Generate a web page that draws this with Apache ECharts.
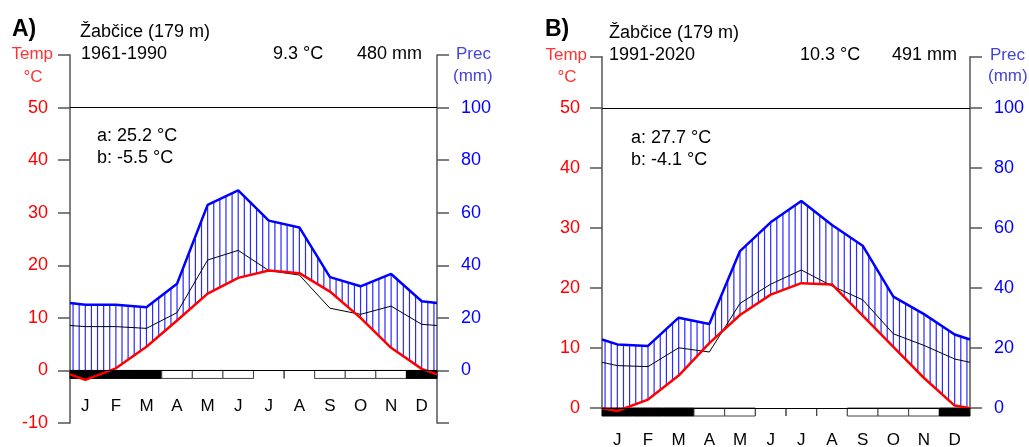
<!DOCTYPE html>
<html>
<head>
<meta charset="utf-8">
<script src="https://cdn.jsdelivr.net/npm/echarts@6/dist/echarts.min.js"></script>
<style>
  html, body { margin: 0; padding: 0; background: #fff; }
  #chart { width: 1029px; height: 447px; }
</style>
</head>
<body>
<div id="chart"></div>
<script>
const months = ['J', 'F', 'M', 'A', 'M', 'J', 'J', 'A', 'S', 'O', 'N', 'D']

// A) Žabčice 1961-1990
const tempA = [-1.8, 0.4, 4.5, 9.5, 14.6, 17.6, 19.0, 18.5, 15.0, 10.0, 4.3, 0.3]
const precA = [25, 25, 24, 33, 63, 68.5, 57, 54.4, 35.5, 32, 36.7, 26.3]
// 2 = sure frost, 1 = probable frost, 0 = none
const frostA = [2, 2, 2, 1, 1, 1, 0, 0, 1, 1, 1, 2]

// B) Žabčice 1991-2020
const tempB = [-0.5, 1.4, 5.4, 10.8, 15.5, 18.9, 20.8, 20.6, 15.4, 10.2, 5.0, 0.4]
const precB = [21.2, 20.7, 30.1, 28, 52.3, 61.9, 69, 61, 54.1, 37.1, 31.3, 24.5]
const frostB = [2, 2, 2, 1, 1, 0, 0, 0, 1, 1, 1, 2]

const FONT = '"Liberation Sans", Arial, sans-serif'

// monthly values at month centres, closed at both edges with the Dec/Jan mean
function withEdges(vals, scale) {
  const edge = (vals[0] + vals[11]) / 2 * scale
  const pts = [[0, edge]]
  vals.forEach((v, i) => pts.push([i + 0.5, v * scale]))
  pts.push([12, edge])
  return pts
}

function interp(pts, x) {
  for (let i = 1; i < pts.length; i++) {
    if (x <= pts[i][0]) {
      const [x0, y0] = pts[i - 1]
      const [x1, y1] = pts[i]
      return y0 + (y1 - y0) * (x - x0) / (x1 - x0)
    }
  }
  return pts[pts.length - 1][1]
}

function tempAxis(grid, min, max) {
  return {
    type: 'value', gridIndex: grid, position: 'left', min, max, interval: 10,
    axisLine: {show: true, lineStyle: {color: '#555', width: 1.5}},
    axisTick: {show: true, length: 12, lineStyle: {color: '#555', width: 1.5}},
    splitLine: {show: false},
    axisLabel: {
      color: '#ff0000', fontSize: 18, fontFamily: FONT, margin: 22,
      formatter: v => (v > 50 ? '' : String(v))
    }
  }
}

function precAxis(grid, min, max) {
  return {
    type: 'value', gridIndex: grid, position: 'right', min, max, interval: 20,
    axisLine: {show: true, lineStyle: {color: '#555', width: 1.5}},
    axisTick: {show: true, length: 12, lineStyle: {color: '#555', width: 1.5}},
    splitLine: {show: false},
    axisLabel: {
      color: '#0000ff', fontSize: 18, fontFamily: FONT, margin: 24,
      formatter: v => (v < 0 || v > 100 ? '' : String(v))
    }
  }
}

function panelSeries(g, temp, prec, frost) {
  const tPts = withEdges(temp, 1)
  const pPts = withEdges(prec, 1)
  const pHalf = withEdges(prec, 0.5)
  const xi = g * 2
  const yT = g * 2
  const yP = g * 2 + 1
  const hatch = []
  for (let k = 0; k < 60; k++) hatch.push([0.1 + k * 0.2])
  return [
    {
      // vertical hatching for the humid period
      type: 'custom', xAxisIndex: xi, yAxisIndex: yT, z: 1, silent: true,
      data: hatch,
      renderItem: (params, api) => {
        const x = api.value(0)
        const lo = Math.max(interp(tPts, x), 0)
        const hi = interp(pHalf, x)
        if (hi <= lo) return null
        const a = api.coord([x, lo])
        const b = api.coord([x, hi])
        return {
          type: 'line',
          shape: {x1: a[0], y1: a[1], x2: b[0], y2: b[1]},
          style: {stroke: '#2a2aff', lineWidth: 1.2}
        }
      }
    },
    {
      // precipitation on the 1 °C = 3 mm scale
      type: 'line', xAxisIndex: xi, yAxisIndex: yT, z: 2, symbol: 'none', silent: true,
      data: withEdges(prec, 1 / 3),
      lineStyle: {color: '#000', width: 1}
    },
    {
      // frost boxes under the zero line
      type: 'custom', xAxisIndex: xi, yAxisIndex: yT, z: 3, silent: true, clip: false,
      data: frost.map((f, i) => [i, f]),
      renderItem: (params, api) => {
        const i = api.value(0)
        const f = api.value(1)
        const p0 = api.coord([i, 0])
        const p1 = api.coord([i + 1, 0])
        const h = 8
        if (f === 0) {
          return {
            type: 'group', children: [
              {type: 'line', shape: {x1: p0[0], y1: p0[1], x2: p0[0], y2: p0[1] + h}, style: {stroke: '#444', lineWidth: 1}},
              {type: 'line', shape: {x1: p1[0], y1: p1[1], x2: p1[0], y2: p1[1] + h}, style: {stroke: '#444', lineWidth: 1}}
            ]
          }
        }
        return {
          type: 'rect',
          shape: {x: p0[0], y: p0[1], width: p1[0] - p0[0], height: h},
          style: f === 2 ? {fill: '#000', stroke: '#000', lineWidth: 1} : {fill: '#fff', stroke: '#444', lineWidth: 1}
        }
      }
    },
    {
      type: 'line', xAxisIndex: xi, yAxisIndex: yT, z: 4, symbol: 'none', silent: true, clip: false,
      data: tPts,
      lineStyle: {color: '#ff0000', width: 2.5},
      markLine: {
        silent: true, symbol: 'none', label: {show: false},
        lineStyle: {color: '#000', width: 1, type: 'solid'},
        data: [{yAxis: 50}, {yAxis: 0}]
      }
    },
    {
      type: 'line', xAxisIndex: xi, yAxisIndex: yP, z: 4, symbol: 'none', silent: true,
      data: pPts,
      lineStyle: {color: '#0000ff', width: 2.5}
    }
  ]
}

function txt(x, y, text, opt) {
  return {
    type: 'text', x, y, silent: true,
    style: Object.assign({
      text, fontSize: 18, fontFamily: FONT, fill: '#000', align: 'left', verticalAlign: 'middle'
    }, opt || {})
  }
}

const chart = echarts.init(document.getElementById('chart'))

const option = {
  animation: false,
  grid: [
    {left: 70, right: 592, top: 55, bottom: 24, outerBoundsMode: 'none'},
    {left: 602, right: 59, top: 56.7, bottom: 39, outerBoundsMode: 'none'}
  ],
  xAxis: [
    {type: 'value', gridIndex: 0, position: 'top', min: 0, max: 12, show: false},
    {
      type: 'category', gridIndex: 0, position: 'bottom', data: months, offset: -28,
      axisLine: {show: false}, axisTick: {show: false},
      axisLabel: {color: '#000', fontSize: 17, fontFamily: FONT, margin: 3}
    },
    {type: 'value', gridIndex: 1, position: 'top', min: 0, max: 12, show: false},
    {
      type: 'category', gridIndex: 1, position: 'bottom', data: months,
      axisLine: {show: false}, axisTick: {show: false},
      axisLabel: {color: '#000', fontSize: 17, fontFamily: FONT, margin: 24}
    }
  ],
  yAxis: [
    tempAxis(0, -10, 60),
    precAxis(0, -20, 120),
    tempAxis(1, 0, 58.55),
    precAxis(1, 0, 117.1)
  ],
  series: [
    ...panelSeries(0, tempA, precA, frostA),
    ...panelSeries(1, tempB, precB, frostB)
  ],
  graphic: [
    txt(12, 30, 'A)', {fontSize: 23, fontWeight: 'bold'}),
    txt(80, 32, 'Žabčice (179 m)'),
    txt(81, 54, '1961-1990'),
    txt(273, 54, '9.3 °C'),
    txt(357, 54, '480 mm'),
    txt(53, 54, 'Temp', {align: 'right', fill: '#ff3333', fontSize: 17}),
    txt(33, 77, '°C', {align: 'center', fill: '#ff3333', fontSize: 17}),
    txt(456, 54, 'Prec', {fill: '#4444dd', fontSize: 17}),
    txt(453, 76, '(mm)', {fill: '#4444dd', fontSize: 17}),
    txt(97, 136, 'a: 25.2 °C'),
    txt(97, 158, 'b: -5.5 °C'),

    txt(545, 30, 'B)', {fontSize: 23, fontWeight: 'bold'}),
    txt(609, 33, 'Žabčice (179 m)'),
    txt(609, 55, '1991-2020'),
    txt(800, 55, '10.3 °C'),
    txt(892, 55, '491 mm'),
    txt(587, 55, 'Temp', {align: 'right', fill: '#ff3333', fontSize: 17}),
    txt(567, 77, '°C', {align: 'center', fill: '#ff3333', fontSize: 17}),
    txt(990, 55, 'Prec', {fill: '#4444dd', fontSize: 17}),
    txt(988, 76, '(mm)', {fill: '#4444dd', fontSize: 17}),
    txt(631, 138, 'a: 27.7 °C'),
    txt(631, 160, 'b: -4.1 °C')
  ]
}

chart.setOption(option)
</script>
</body>
</html>
